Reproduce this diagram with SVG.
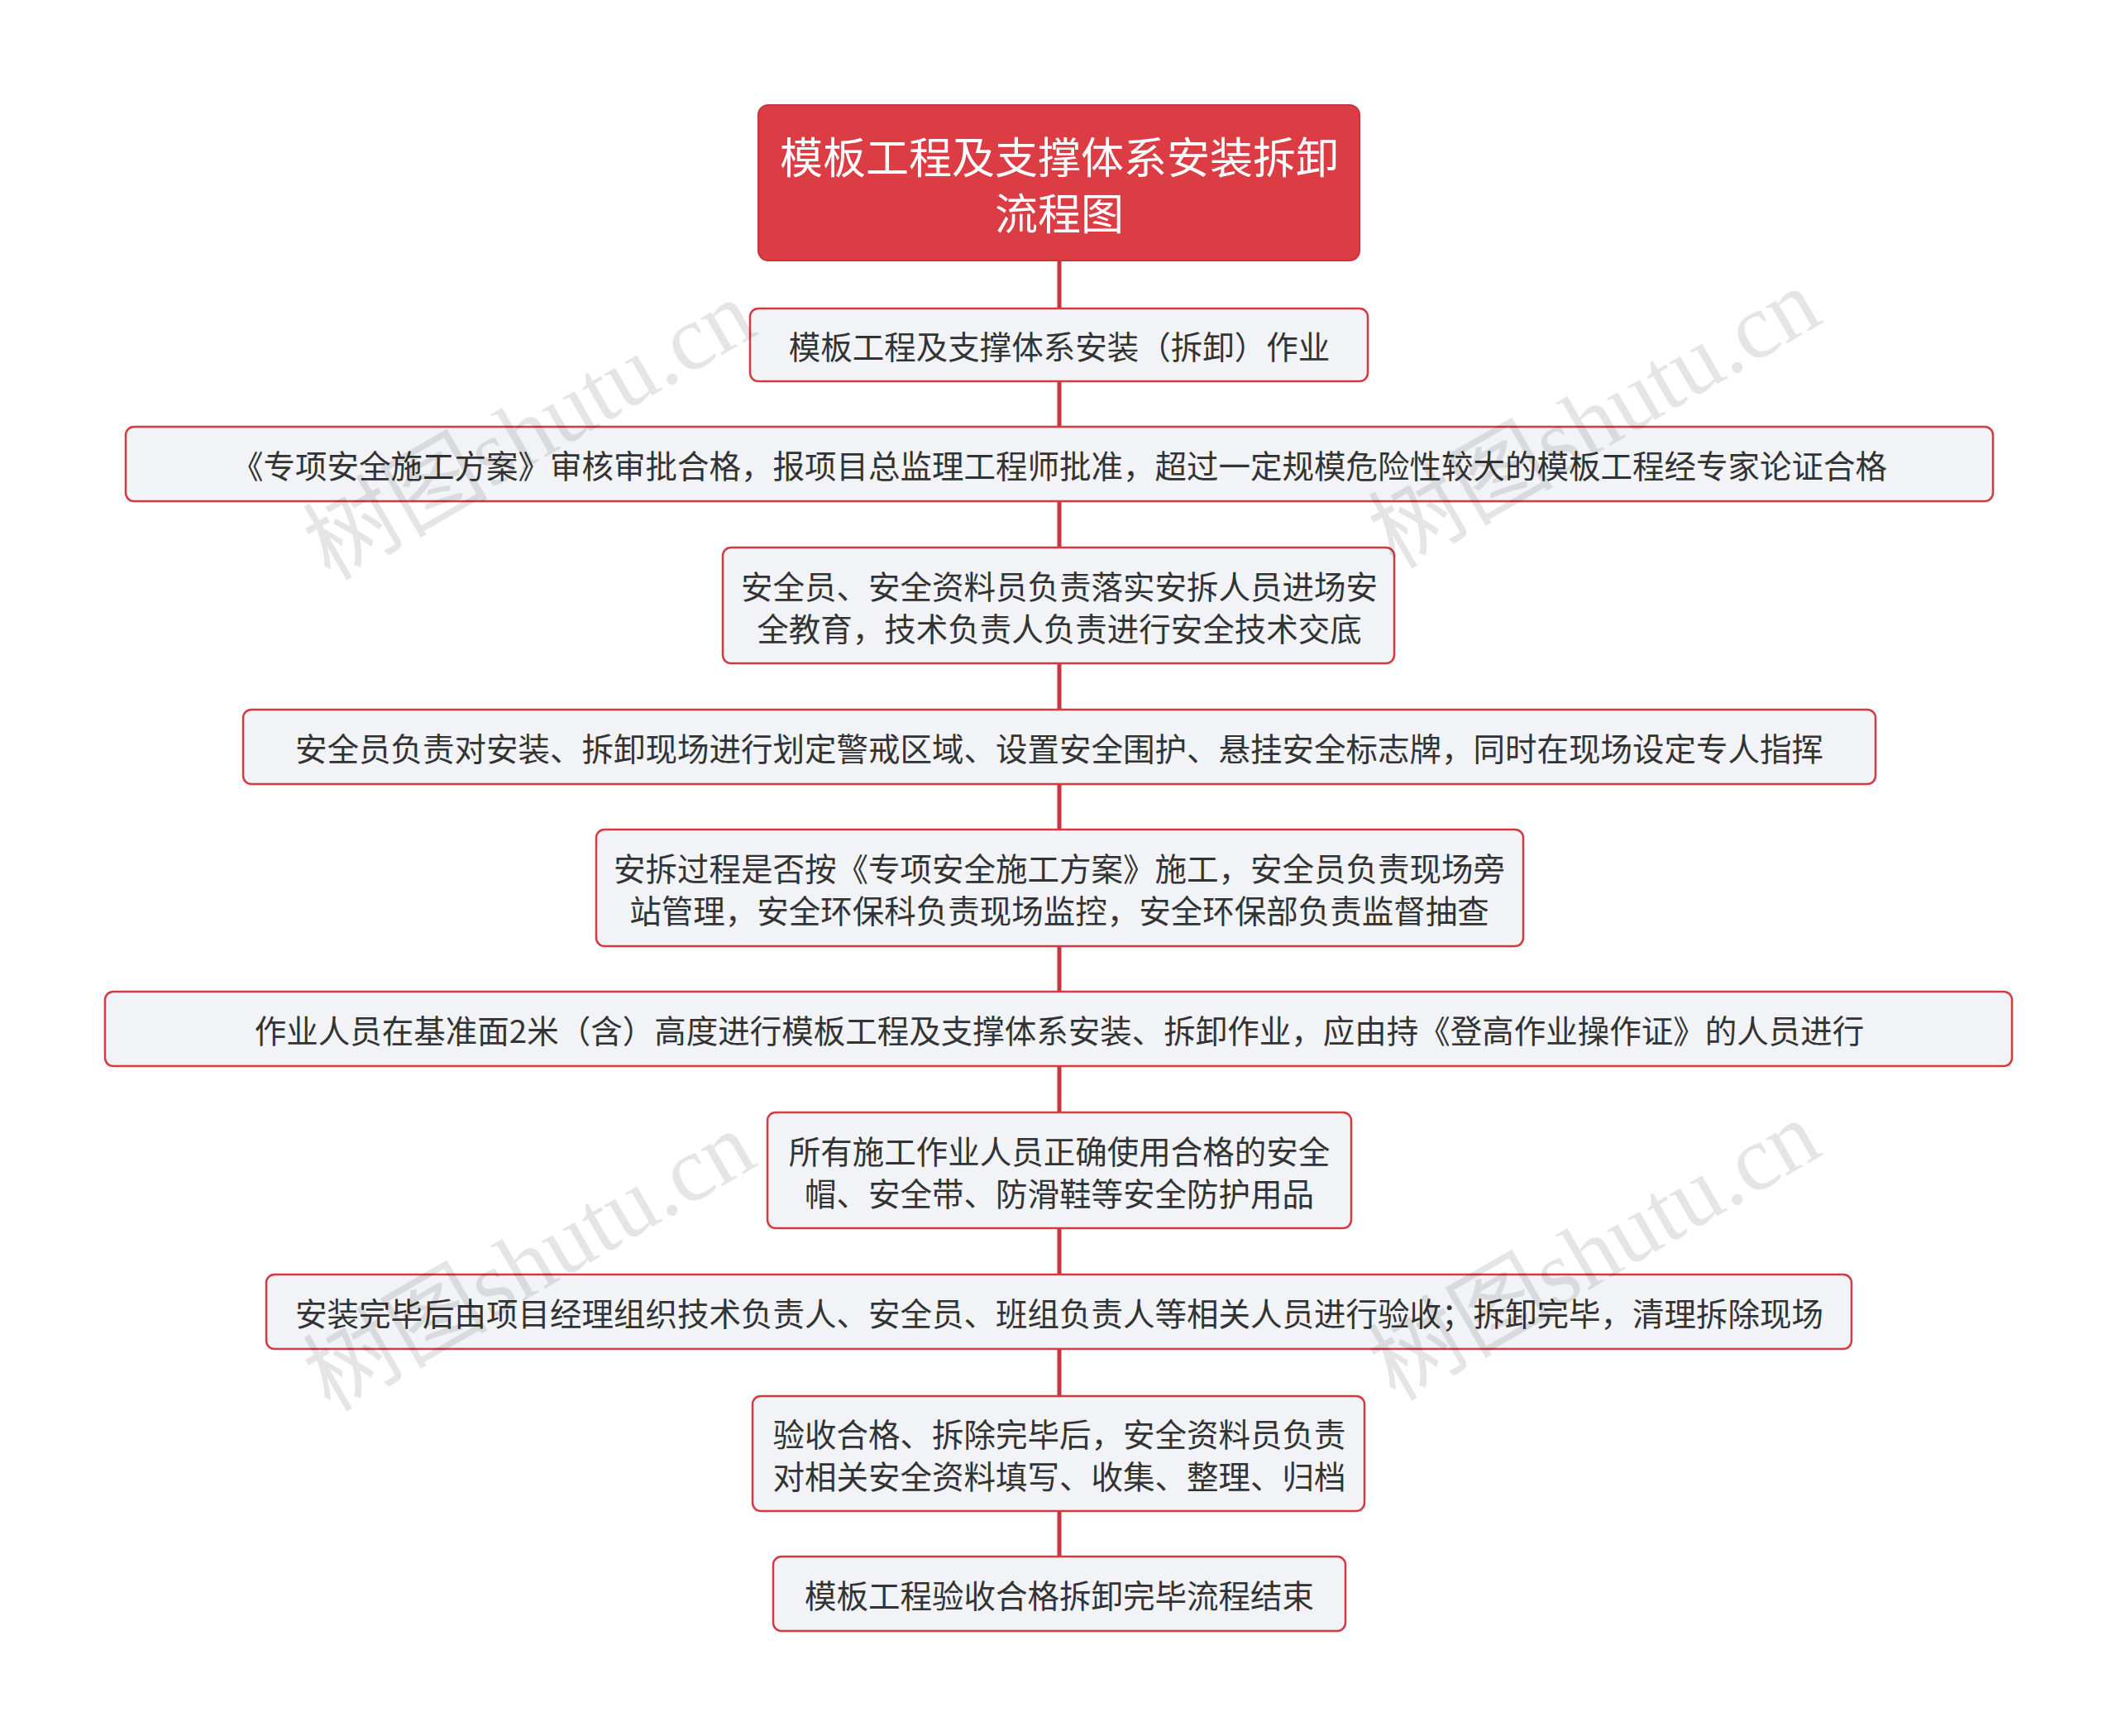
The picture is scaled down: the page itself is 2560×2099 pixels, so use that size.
<svg xmlns="http://www.w3.org/2000/svg" width="2560" height="2099" viewBox="0 0 2560 2099">
<style>
.n{fill:#f1f3f6;stroke:#d53a41;stroke-width:2.5}
.t{font-family:"Noto Sans CJK SC","Noto Sans",sans-serif;font-size:38.5px;fill:#333;text-anchor:middle;dominant-baseline:central}
.wm{font-family:"Liberation Serif","Noto Sans CJK SC",serif;font-size:112px;fill:#000;fill-opacity:0.1;text-anchor:middle;dominant-baseline:central}
</style>
<rect width="2560" height="2099" fill="#fff"/>
<g id="connectors" stroke="#c8353c" stroke-width="5">
<line x1="1281" y1="315" x2="1281" y2="1882"/>
</g>
<g id="root"><rect x="917" y="127" width="727" height="188" rx="12" fill="#dc3d44" stroke="#c8353c" stroke-width="2"/>
<text class="t" x="1281" y="187" style="font-size:52px;fill:#fff">模板工程及支撑体系安装拆卸</text>
<text class="t" x="1281" y="255" style="font-size:52px;fill:#fff">流程图</text></g>
<g id="n1"><rect class="n" x="907" y="373" width="747" height="88" rx="10"/><text class="t" x="1281" y="417">模板工程及支撑体系安装（拆卸）作业</text></g>
<g id="n2"><rect class="n" x="152" y="516" width="2258" height="90" rx="10"/><text class="t" x="1281" y="561">《专项安全施工方案》审核审批合格，报项目总监理工程师批准，超过一定规模危险性较大的模板工程经专家论证合格</text></g>
<g id="n3"><rect class="n" x="874" y="662" width="812" height="140" rx="10"/><text class="t" x="1281" y="707">安全员、安全资料员负责落实安拆人员进场安</text><text class="t" x="1281" y="758">全教育，技术负责人负责进行安全技术交底</text></g>
<g id="n4"><rect class="n" x="294" y="858" width="1974" height="90" rx="10"/><text class="t" x="1281" y="903">安全员负责对安装、拆卸现场进行划定警戒区域、设置安全围护、悬挂安全标志牌，同时在现场设定专人指挥</text></g>
<g id="n5"><rect class="n" x="721" y="1003" width="1121" height="141" rx="10"/><text class="t" x="1281" y="1048">安拆过程是否按《专项安全施工方案》施工，安全员负责现场旁</text><text class="t" x="1281" y="1099">站管理，安全环保科负责现场监控，安全环保部负责监督抽查</text></g>
<g id="n6"><rect class="n" x="127" y="1199" width="2306" height="90" rx="10"/><text class="t" x="1281" y="1244">作业人员在基准面2米（含）高度进行模板工程及支撑体系安装、拆卸作业，应由持《登高作业操作证》的人员进行</text></g>
<g id="n7"><rect class="n" x="928" y="1345" width="706" height="140" rx="10"/><text class="t" x="1281" y="1390">所有施工作业人员正确使用合格的安全</text><text class="t" x="1281" y="1441">帽、安全带、防滑鞋等安全防护用品</text></g>
<g id="n8"><rect class="n" x="322" y="1541" width="1917" height="90" rx="10"/><text class="t" x="1281" y="1586">安装完毕后由项目经理组织技术负责人、安全员、班组负责人等相关人员进行验收；拆卸完毕，清理拆除现场</text></g>
<g id="n9"><rect class="n" x="910" y="1688" width="740" height="139" rx="10"/><text class="t" x="1281" y="1732">验收合格、拆除完毕后，安全资料员负责</text><text class="t" x="1281" y="1783">对相关安全资料填写、收集、整理、归档</text></g>
<g id="n10"><rect class="n" x="935" y="1882" width="692" height="90" rx="10"/><text class="t" x="1281" y="1927">模板工程验收合格拆卸完毕流程结束</text></g>
<g id="watermarks">
<text class="wm" transform="translate(640,520) rotate(-30)">树图shutu.cn</text>
<text class="wm" transform="translate(1928,506) rotate(-30)">树图shutu.cn</text>
<text class="wm" transform="translate(640,1525) rotate(-30)">树图shutu.cn</text>
<text class="wm" transform="translate(1928,1512) rotate(-30)">树图shutu.cn</text>
</g>
</svg>
